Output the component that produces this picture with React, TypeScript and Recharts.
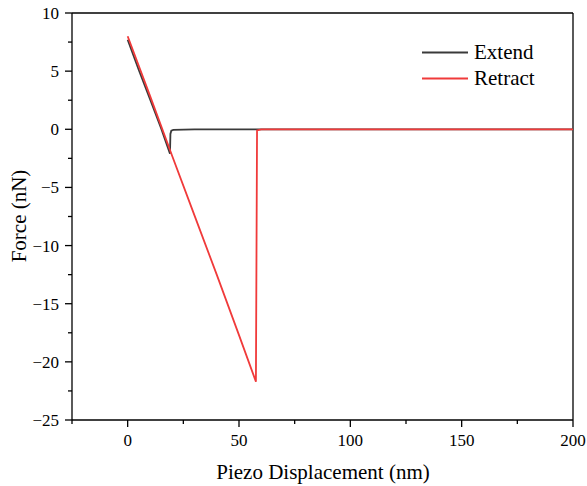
import { LineChart, Line, XAxis, YAxis, ReferenceLine } from 'recharts'

const extendX = [0, 5, 10, 15, 19, 19.2, 19.6, 20.5, 30, 50, 100, 150, 200]
const extendY = [7.7, 5.1, 2.6, 0.1, -2.1, -0.4, -0.12, -0.05, 0, 0, 0, 0, 0]
const retractX = [0, 10, 20, 30, 40, 50, 57.6, 58.1, 60, 100, 150, 200]
const retractY = [8.0, 2.9, -2.3, -7.4, -12.5, -17.7, -21.7, -0.1, 0, 0, 0, 0]

const xTicks = [-25, 0, 25, 50, 75, 100, 125, 150, 175, 200]
const yTicks = [-25, -22.5, -20, -17.5, -15, -12.5, -10, -7.5, -5, -2.5, 0, 2.5, 5, 7.5, 10]

const extend = extendX.map((x, i) => ({ x, y: extendY[i] }))
const retract = retractX.map((x, i) => ({ x, y: retractY[i] }))

const font = '"Liberation Serif", "Times New Roman", serif'
const txt = { fontFamily: font, fill: '#000' }
const fmt = (v: number) => (v < 0 ? '\u2212' + Math.abs(v) : String(v))

function XTick({ x, y, payload }: any) {
  const major = payload.value % 50 === 0
  return (
    <g>
      <line x1={x} x2={x} y1={y} y2={y + (major ? 7 : 4)} stroke="#000" strokeWidth={1.3} />
      {major && (
        <text x={x} y={y + 26} textAnchor="middle" fontFamily={font} fontSize={17} fill="#000" style={{ ...txt, fontSize: 17 }}>
          {fmt(payload.value)}
        </text>
      )}
    </g>
  )
}

function YTick({ x, y, payload }: any) {
  const major = payload.value % 5 === 0
  return (
    <g>
      <line x1={x} x2={x - (major ? 7 : 4)} y1={y} y2={y} stroke="#000" strokeWidth={1.3} />
      {major && (
        <text x={x - 13} y={y + 6} textAnchor="end" fontFamily={font} fontSize={17} fill="#000" style={{ ...txt, fontSize: 17 }}>
          {fmt(payload.value)}
        </text>
      )}
    </g>
  )
}

export default function App() {
  return (
    <div style={{ position: 'absolute', left: 0, top: 0, background: '#fff', fontFamily: font }}>
      <LineChart width={587} height={486} margin={{ top: 13, right: 14, bottom: 0, left: 0 }}>
        <XAxis
          type="number"
          dataKey="x"
          domain={[-25, 200]}
          ticks={xTicks}
          allowDataOverflow
          height={66}
          tickSize={0}
          tickMargin={0}
          tickLine={false}
          tick={<XTick />}
          axisLine={{ stroke: '#000', strokeWidth: 1.3 }}
          interval={0}
        />
        <YAxis
          type="number"
          dataKey="y"
          domain={[-25, 10]}
          ticks={yTicks}
          allowDataOverflow
          width={72}
          tickSize={0}
          tickMargin={0}
          tickLine={false}
          tick={<YTick />}
          axisLine={{ stroke: '#000', strokeWidth: 1.3 }}
          interval={0}
        />
        <ReferenceLine y={10} stroke="#000" strokeWidth={1.3} />
        <ReferenceLine x={200} stroke="#000" strokeWidth={1.3} />
        <Line data={extend} dataKey="y" type="linear" stroke="#3a3a3a" strokeWidth={1.8} dot={false} isAnimationActive={false} />
        <Line data={retract} dataKey="y" type="linear" stroke="#f03a3a" strokeWidth={1.8} dot={false} isAnimationActive={false} />
      </LineChart>
      <svg width={587} height={486} style={{ position: 'absolute', left: 0, top: 0, pointerEvents: 'none' }}>
        <line x1={422} x2={468} y1={52.5} y2={52.5} stroke="#3a3a3a" strokeWidth={1.8} />
        <text x={474} y={59} style={{ ...txt, fontSize: 21 }}>Extend</text>
        <line x1={422} x2={468} y1={78.5} y2={78.5} stroke="#f03a3a" strokeWidth={1.8} />
        <text x={474} y={85} style={{ ...txt, fontSize: 21 }}>Retract</text>
        <text x={323} y={479} textAnchor="middle" style={{ ...txt, fontSize: 21 }}>
          Piezo Displacement (nm)
        </text>
        <text x={26} y={216} textAnchor="middle" transform="rotate(-90 26 216)" style={{ ...txt, fontSize: 21 }}>
          Force (nN)
        </text>
      </svg>
    </div>
  )
}
